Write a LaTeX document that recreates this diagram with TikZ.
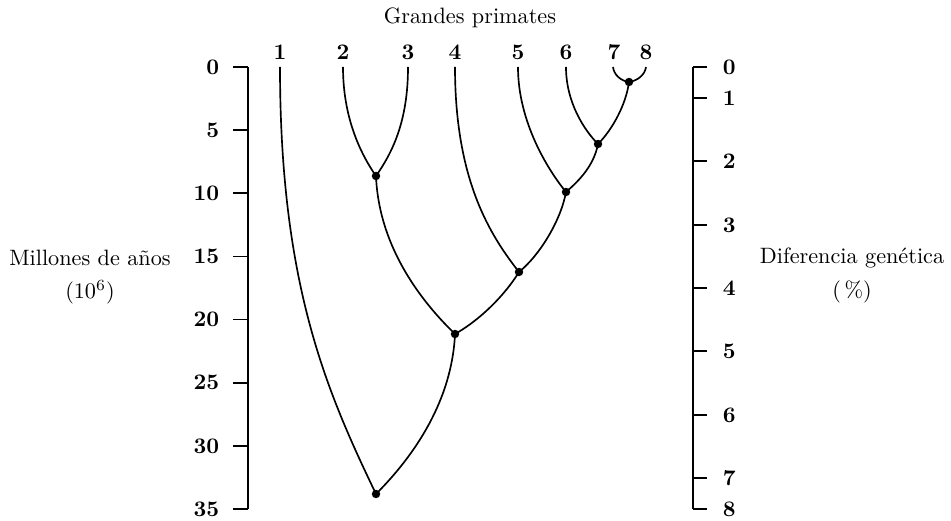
\documentclass[tikz,border=0pt]{standalone}
\begin{document}
\begin{tikzpicture}[x={(0.45pt,0)},y={(0,-0.45pt)},
  branch/.style={line width=0.75pt},
  axisline/.style={line width=0.75pt},
  junction/.style={circle,fill=black,inner sep=0pt,minimum size=3.8pt},
  tiplabel/.style={font=\bfseries,anchor=center},
  lefttick/.style={font=\bfseries,anchor=east},
  righttick/.style={font=\bfseries,anchor=west},
  caption/.style={align=center,anchor=center}]
\useasboundingbox (0,0) rectangle (951,521);

% title
\node[caption] (title) at (470,18) {Grandes primates};

% tips
\foreach \n/\x in {1/280,2/343,3/408,4/455,5/518,6/566,7/613,8/646}{
  \coordinate (t\n) at (\x,67);
}
\foreach \n/\x in {1/280,2/343,3/408,4/455,5/518,6/566,7/614,8/646}{
  \node[tiplabel] (l\n) at (\x,52) {\n};
}

% junctions
\node[junction] (n78) at (629,82) {};
\node[junction] (n6) at (598,144) {};
\node[junction] (n5) at (566,192) {};
\node[junction] (n23) at (376,176) {};
\node[junction] (n45) at (519,272) {};
\node[junction] (nA) at (455,334) {};
\node[junction] (root) at (376,494) {};

% branches
\draw[branch] (t7) .. controls (614,75) and (621,81) .. (n78.center);
\draw[branch] (t8) .. controls (645,75) and (637,81) .. (n78.center);
\draw[branch] (t6) .. controls (566,102) and (584,130) .. (n6.center);
\draw[branch] (n78.center) .. controls (626,105) and (612,130) .. (n6.center);
\draw[branch] (t5) .. controls (518,122) and (548,170) .. (n5.center);
\draw[branch] (n6.center) .. controls (594,165) and (580,180) .. (n5.center);
\draw[branch] (t4) .. controls (455,180) and (490,235) .. (n45.center);
\draw[branch] (n5.center) .. controls (561,220) and (540,255) .. (n45.center);
\draw[branch] (t2) .. controls (343,117) and (360,153) .. (n23.center);
\draw[branch] (t3) .. controls (408,122) and (392,153) .. (n23.center);
\draw[branch] (n23.center) .. controls (379,250) and (425,305) .. (nA.center);
\draw[branch] (n45.center) .. controls (505,295) and (480,320) .. (nA.center);
\draw[branch] (nA.center) .. controls (452,400) and (415,455) .. (root.center);
\draw[branch] (t1) .. controls (280,285) and (327,392) .. (root.center);

% left axis
\coordinate (la0) at (248,67);
\coordinate (la1) at (248,509);
\draw[axisline] (la0) -- (la1);
\foreach \v in {0,5,...,35}{
  \pgfmathsetmacro{\yy}{67+12.629*\v}
  \coordinate (lt\v) at (233,\yy);
  \draw[axisline] (lt\v) -- (248,\yy);
  \node[lefttick] (lv\v) at (227,\yy) {\v};
}

% right axis
\coordinate (ra0) at (693,67);
\coordinate (ra1) at (693,509);
\draw[axisline] (ra0) -- (ra1);
\foreach \v/\yy in {0/67,1/98,2/161,3/225,4/288,5/351,6/415,7/478,8/509}{
  \coordinate (rt\v) at (707,\yy);
  \draw[axisline] (693,\yy) -- (rt\v);
  \node[righttick] (rv\v) at (715,\yy) {\v};
}

% axis captions
\node[caption] (ltitle) at (90,258) {Millones de años};
\node[caption] (lunit) at (90,292) {$(10^6)$};
\node[caption] (rtitle) at (852,258) {Diferencia genética};
\node[caption] (runit) at (852,292) {(\,\%)};
\end{tikzpicture}
\end{document}
